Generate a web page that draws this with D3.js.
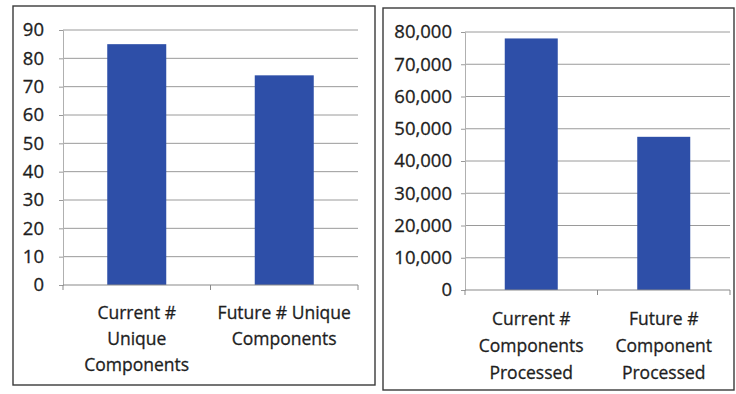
<!DOCTYPE html>
<html>
<head>
<meta charset="utf-8">
<script src="https://cdn.jsdelivr.net/npm/d3@7"></script>
<style>
  html, body { margin: 0; padding: 0; background: #fff; }
  svg text { font-family: "Open Sans", "Noto Sans", sans-serif; fill: #1e1e1e; stroke: #1e1e1e; stroke-width: 0.3px; }
</style>
</head>
<body>
<svg id="chart" width="736" height="394"></svg>
<script>
// Unique components: current vs future
const uniqueCategories = ["Current #\nUnique\nComponents", "Future # Unique\nComponents"];
const uniqueValues = [85, 74];
const uniqueTicks = [0, 10, 20, 30, 40, 50, 60, 70, 80, 90];

// Components processed: current vs future
const processedCategories = ["Current #\nComponents\nProcessed", "Future #\nComponent\nProcessed"];
const processedValues = [78000, 47500];
const processedTicks = [0, 10000, 20000, 30000, 40000, 50000, 60000, 70000, 80000];

const svg = d3.select("#chart");
const barColor = "#2e4fa8";

function panel(opts) {
  const g = svg.append("g");
  // frame around the panel
  g.append("rect")
    .attr("x", opts.frame[0]).attr("y", opts.frame[1])
    .attr("width", opts.frame[2]).attr("height", opts.frame[3])
    .attr("fill", "none").attr("stroke", "#3a3a3a").attr("stroke-width", 1.4);

  const x = d3.scaleBand()
    .domain(opts.categories)
    .range([opts.left, opts.right])
    .paddingInner(0.6).paddingOuter(0.3);
  const xb = d3.scaleBand().domain(opts.categories).range([opts.left, opts.right]);
  const y = d3.scaleLinear()
    .domain([0, d3.max(opts.ticks)])
    .range([opts.bottom, opts.top]);

  // gridlines
  g.append("g").selectAll("line").data(opts.ticks.filter(t => t > 0)).join("line")
    .attr("x1", opts.left).attr("x2", opts.right)
    .attr("y1", d => y(d)).attr("y2", d => y(d))
    .attr("stroke", "#9a9a9a").attr("stroke-width", 1);

  // value axis
  const yAxis = d3.axisLeft(y).tickValues(opts.ticks).tickSize(4).tickPadding(opts.pad)
    .tickFormat(opts.format);
  const ya = g.append("g").attr("transform", `translate(${opts.left},0)`).call(yAxis);
  ya.select(".domain").attr("stroke", "#b0b0b0");
  ya.selectAll(".tick line").attr("stroke", "#9a9a9a");
  ya.selectAll(".tick text").attr("font-size", 18.5).attr("fill", "#1e1e1e");

  // bars
  g.append("g").selectAll("rect").data(opts.values).join("rect")
    .attr("x", (d, i) => x(opts.categories[i]))
    .attr("width", x.bandwidth())
    .attr("y", d => y(d))
    .attr("height", d => y(0) - y(d))
    .attr("fill", barColor);

  // category axis
  g.append("line")
    .attr("x1", opts.left).attr("x2", opts.right)
    .attr("y1", y(0)).attr("y2", y(0))
    .attr("stroke", "#8a8a8a").attr("stroke-width", 1.2);
  const bounds = [opts.left, ...opts.categories.map(c => xb(c) + xb.bandwidth())];
  g.append("g").selectAll("line").data(bounds).join("line")
    .attr("x1", d => d).attr("x2", d => d)
    .attr("y1", y(0)).attr("y2", y(0) + 5)
    .attr("stroke", "#8a8a8a");

  // category labels
  opts.categories.forEach(c => {
    const lines = c.split("\n");
    const t = g.append("text")
      .attr("text-anchor", "middle")
      .attr("font-size", 17.5);
    lines.forEach((ln, i) => {
      t.append("tspan")
        .attr("x", xb(c) + xb.bandwidth() / 2)
        .attr("y", opts.bottom + opts.labelOffset + i * opts.lineGap)
        .text(ln);
    });
  });
}

panel({
  frame: [13, 6, 362, 379],
  categories: uniqueCategories, values: uniqueValues, ticks: uniqueTicks,
  left: 63, right: 358, top: 30, bottom: 285,
  format: d3.format("d"), pad: 15,
  labelOffset: 34, lineGap: 26
});

panel({
  frame: [383, 8, 351, 382],
  categories: processedCategories, values: processedValues, ticks: processedTicks,
  left: 465, right: 730, top: 32, bottom: 290,
  format: d3.format(","), pad: 9,
  labelOffset: 35, lineGap: 27
});
</script>
</body>
</html>
